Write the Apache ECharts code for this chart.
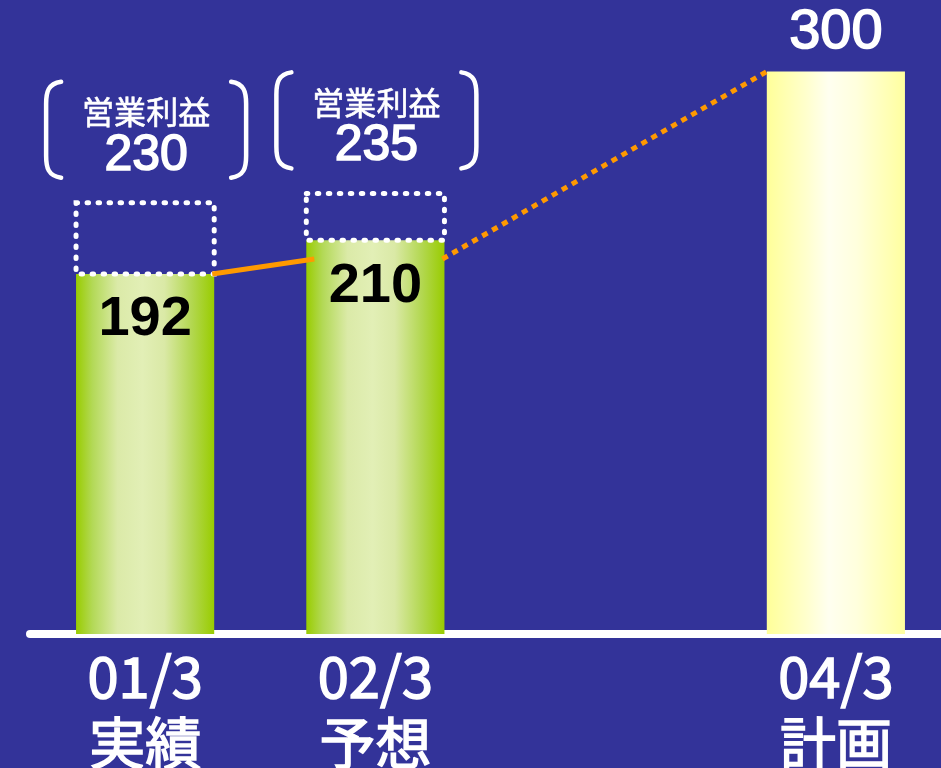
<!DOCTYPE html>
<html>
<head>
<meta charset="utf-8">
<script src="https://cdn.jsdelivr.net/npm/echarts@6/dist/echarts.min.js"></script>
<style>
  html, body { margin: 0; padding: 0; background: #333399; }
  #chart { width: 941px; height: 768px; }
</style>
</head>
<body>
<div id="chart"></div>
<script>
// Fiscal periods (March year-end) and their status
const categories = ['01/3', '02/3', '03/3', '04/3'];
const periodTypes = ['実績', '予想', '', '計画'];

// Ordinary profit per period (bars)
const ordinaryProfit = [192, 210, null, 300];

// Operating profit per period (dotted boxes with bracketed captions)
const operatingProfit = [230, 235, null, null];
const operatingCaption = '営業利益';

// Trend connectors: [fromIndex, fromValue, toIndex, toValue]
const actualTrend = [[0, 192, 1, 200]];
const planTrend = [[1, 200, 3, 300]];

const BAR_RATIO = 0.6;
const NUM_FONT = '"Liberation Sans", Arial, sans-serif';
const JP_FONT = '"Noto Sans CJK JP", sans-serif';

const greenFill = new echarts.graphic.LinearGradient(0, 0, 1, 0, [
  { offset: 0, color: '#99cc00' },
  { offset: 0.12, color: '#b3d957' },
  { offset: 0.3, color: '#dbeaa8' },
  { offset: 0.48, color: '#e2efb6' },
  { offset: 0.64, color: '#dae9a6' },
  { offset: 0.84, color: '#b2d74f' },
  { offset: 1, color: '#99cc00' }
]);
const yellowFill = new echarts.graphic.LinearGradient(0, 0, 1, 0, [
  { offset: 0, color: '#ffff99' },
  { offset: 0.28, color: '#ffffcc' },
  { offset: 0.45, color: '#fffff0' },
  { offset: 0.65, color: '#ffffdd' },
  { offset: 1, color: '#ffff9f' }
]);

const barData = ordinaryProfit.map((v, i) => {
  const planned = periodTypes[i] === '計画';
  return {
    value: v,
    itemStyle: { color: planned ? yellowFill : greenFill },
    label: planned
      ? {
          position: 'top', distance: 11, color: '#ffffff', fontSize: 56, fontFamily: NUM_FONT,
          textBorderColor: '#ffffff', textBorderWidth: 1.6
        }
      : { position: 'insideTop', distance: 18, color: '#000000', fontSize: 56, fontWeight: 'bold', fontFamily: NUM_FONT }
  };
});

// Dotted box from the bar top up to operating profit, plus bracketed caption
function renderOperating(params, api) {
  const i = api.value(0);
  const base = api.coord([i, api.value(1)]);
  const top = api.coord([i, api.value(2)]);
  const w = api.size([1, 0])[0] * BAR_RATIO;
  const cx = base[0];
  const y = top[1];
  const bTop = y - 121, bBot = y - 25;
  const lx = cx - 99, rx = cx + 101;
  const bracketStyle = { fill: 'none', stroke: '#ffffff', lineWidth: 4.5, lineCap: 'round' };
  return {
    type: 'group',
    children: [
      {
        type: 'rect',
        shape: { x: cx - w / 2, y: y, width: w, height: base[1] - y },
        style: { fill: 'none', stroke: '#ffffff', lineWidth: 5, lineDash: [1.5, 9.5], lineCap: 'round' }
      },
      {
        type: 'path',
        shape: {
          pathData: `M${lx + 15} ${bTop} C${lx + 2} ${bTop + 2} ${lx} ${bTop + 10} ${lx} ${bTop + 22} L${lx} ${bBot - 22} C${lx} ${bBot - 10} ${lx + 2} ${bBot - 2} ${lx + 15} ${bBot}`
        },
        style: bracketStyle
      },
      {
        type: 'path',
        shape: {
          pathData: `M${rx - 15} ${bTop} C${rx - 2} ${bTop + 2} ${rx} ${bTop + 10} ${rx} ${bTop + 22} L${rx} ${bBot - 22} C${rx} ${bBot - 10} ${rx - 2} ${bBot - 2} ${rx - 15} ${bBot}`
        },
        style: bracketStyle
      },
      {
        type: 'text',
        style: {
          x: cx + 1, y: y - 91, text: operatingCaption, align: 'center', verticalAlign: 'middle',
          fill: '#ffffff', fontSize: 32, fontFamily: JP_FONT,
          stroke: '#ffffff', lineWidth: 0.6
        }
      },
      {
        type: 'text',
        style: {
          x: cx + 1, y: y - 47, text: String(api.value(2)), align: 'center', verticalAlign: 'middle',
          fill: '#ffffff', fontSize: 50, fontFamily: NUM_FONT,
          stroke: '#ffffff', lineWidth: 1.6
        }
      }
    ]
  };
}

// Orange connector between the right edge of one bar and the left edge of another
function trendRenderer(dash) {
  return function (params, api) {
    const half = api.size([1, 0])[0] * BAR_RATIO / 2;
    const from = api.coord([api.value(0), api.value(1)]);
    const to = api.coord([api.value(2), api.value(3)]);
    return {
      type: 'line',
      shape: { x1: from[0] + half - 2, y1: from[1], x2: to[0] - half + (dash ? 0 : 8), y2: to[1] },
      style: { stroke: '#ff9900', lineWidth: 5, lineDash: dash || null, lineCap: 'butt' }
    };
  };
}

const axisText = {
  color: '#ffffff', fontSize: 56, fontFamily: JP_FONT, lineHeight: 66,
  textBorderColor: '#ffffff', textBorderWidth: 1.5
};

const chart = echarts.init(document.getElementById('chart'), null, { renderer: 'canvas' });
chart.setOption({
  backgroundColor: '#333399',
  animation: false,
  grid: { left: 30, top: 34, width: 921, height: 600, containLabel: false, outerBoundsMode: 'none' },
  xAxis: {
    type: 'category',
    data: categories,
    offset: 4,
    axisTick: { show: false },
    axisLine: { lineStyle: { color: '#ffffff', width: 8 } },
    axisLabel: {
      interval: 0,
      margin: 6,
      formatter: (v, i) => periodTypes[i] ? `{a|${v}}\n{b|${periodTypes[i]}}` : '',
      rich: { a: axisText, b: axisText }
    }
  },
  yAxis: { type: 'value', min: 0, max: 320, show: false, splitLine: { show: false } },
  series: [
    {
      name: '経常利益',
      type: 'bar',
      barWidth: (BAR_RATIO * 100) + '%',
      data: barData,
      label: { show: true },
      z: 2
    },
    {
      name: operatingCaption,
      type: 'custom',
      data: operatingProfit
        .map((v, i) => (v == null ? null : [i, ordinaryProfit[i], v]))
        .filter(Boolean),
      renderItem: renderOperating,
      z: 3
    },
    {
      name: '実績推移',
      type: 'custom',
      data: actualTrend,
      renderItem: trendRenderer(null),
      z: 4
    },
    {
      name: '計画推移',
      type: 'custom',
      data: planTrend,
      renderItem: trendRenderer([6, 5.5]),
      z: 4
    }
  ]
});
</script>
</body>
</html>
